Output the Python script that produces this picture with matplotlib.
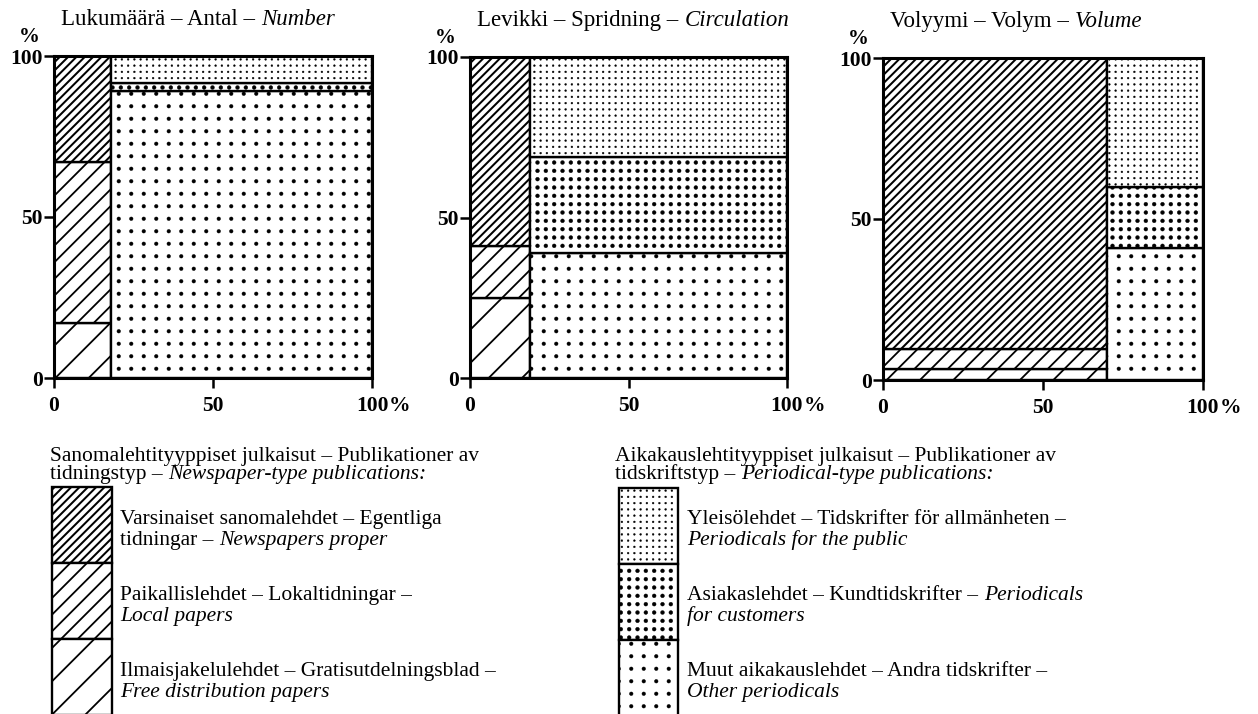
import matplotlib
matplotlib.use("Agg")
import numpy as np
import matplotlib.pyplot as plt
import matplotlib.hatch as mhatch
from matplotlib.path import Path
from matplotlib.patches import Rectangle

plt.rcParams['font.family'] = ['Liberation Serif', 'DejaVu Serif']
plt.rcParams['hatch.color'] = 'black'

W, H = 1258, 714

# Panel titles: Finnish/Swedish part and English (italic) part
titles_fi_sv = ["Lukumäärä – Antal –", "Levikki – Spridning –", "Volyymi – Volym –"]
titles_en = ["Number", "Circulation", "Volume"]

# Share of newspaper-type publications along the x axis (%)
news_share = [18, 19, 70]

# Newspaper-type column, bottom to top (% of the column)
free_papers = [17, 25, 3.5]
local_papers = [50, 16, 6]
newspapers_proper = [33, 59, 90.5]

# Periodical-type column, bottom to top (% of the column)
other_periodicals = [89, 39, 41]
customer_periodicals = [2.5, 30, 19]
public_periodicals = [8.5, 31, 40]

axis_ticks = [0, 50, 100]
tick_labels = ["0", "50", "100"]


class DotGrid:
    """Square grid of filled dots; the number of '.' picks pitch and dot size."""
    GRID = {1: (8, 0.018), 2: (12, 0.019), 3: (16, 0.009)}

    def __init__(self, hatch, density):
        n_dots = min(hatch.count('.'), 3)
        self.rows, self.radius = self.GRID.get(n_dots, (0, 0.0))
        circle = Path.unit_circle()
        self.circle_v = circle.vertices
        self.circle_c = circle.codes
        self.num_vertices = self.rows ** 2 * len(self.circle_v)

    def set_vertices_and_codes(self, vertices, codes):
        n = len(self.circle_v)
        centers = (np.arange(self.rows) + 0.5) / self.rows
        k = 0
        for cy in centers:
            for cx in centers:
                vertices[k:k + n] = self.circle_v * self.radius + (cx, cy)
                codes[k:k + n] = self.circle_c
                k += n


if hasattr(mhatch, "_hatch_types") and hasattr(mhatch, "SmallFilledCircles"):
    mhatch._hatch_types[:] = [DotGrid if c is mhatch.SmallFilledCircles else c
                              for c in mhatch._hatch_types]

# Fill pattern of each publication group: (hatch, hatch line width)
STYLE = {
    "proper": ("////", 1.45),
    "local": ("//", 1.3),
    "free": ("/", 1.3),
    "public": ("...", 0.3),
    "customers": ("..", 0.3),
    "other": (".", 0.3),
}

# Panel frames in pixels: left, right, top, bottom
PANEL_PX = [(54, 372, 56, 378), (470, 787, 57, 378), (883, 1203, 58, 380)]

PT = 0.72  # points per pixel at 100 dpi


def set_hatch(patch, key):
    hatch, hlw = STYLE[key]
    patch.set_hatch(hatch)
    if hasattr(patch, "set_hatch_linewidth"):
        patch.set_hatch_linewidth(hlw)


def stack(ax, x0, width, heights, keys):
    bottom = 0
    for h, key in zip(heights, keys):
        bars = ax.bar(x0, h, width=width, bottom=bottom, align="edge",
                      color="white", edgecolor="black", linewidth=1.7)
        set_hatch(bars.patches[0], key)
        bottom += h


def write_line(ax, xy, parts, size, coords="data"):
    prev = None
    for txt, italic in parts:
        style = "italic" if italic else "normal"
        if prev is None:
            prev = ax.annotate(txt, xy=xy, xycoords=coords, ha="left",
                               va="baseline", fontsize=size, fontstyle=style)
        else:
            prev = ax.annotate(txt, xy=(1, 0), xycoords=prev,
                               xytext=(size * 0.27, 0), textcoords="offset points",
                               ha="left", va="bottom", fontsize=size, fontstyle=style)
    return prev


fig = plt.figure(figsize=(W / 100, H / 100), dpi=100)

for i in range(3):
    l, r, t, b = PANEL_PX[i]
    ax = fig.add_axes([l / W, 1 - b / H, (r - l) / W, (b - t) / H])
    w = news_share[i]
    stack(ax, 0, w, [free_papers[i], local_papers[i], newspapers_proper[i]],
          ["free", "local", "proper"])
    stack(ax, w, 100 - w,
          [other_periodicals[i], customer_periodicals[i], public_periodicals[i]],
          ["other", "customers", "public"])
    ax.set_xlim(0, 100)
    ax.set_ylim(0, 100)
    ax.set_xticks(axis_ticks, tick_labels)
    ax.set_yticks(axis_ticks, tick_labels)
    ax.tick_params(axis="both", direction="out", length=7, width=1.8,
                   labelsize=15.5, colors="black")
    ax.tick_params(axis="x", pad=6)
    ax.tick_params(axis="y", pad=1)
    for lab in ax.get_xticklabels() + ax.get_yticklabels():
        lab.set_fontweight("bold")
    for sp in ax.spines.values():
        sp.set_linewidth(2.2)
        sp.set_zorder(3)
    # unit marks
    ax.annotate("%", xy=(0, 1), xycoords="axes fraction",
                xytext=(-25 * PT, 19 * PT), textcoords="offset points",
                ha="center", va="center", fontsize=15, fontweight="bold")
    ax.annotate("%", xy=(1, 0), xycoords="axes fraction",
                xytext=(17 * PT, -13), textcoords="offset points",
                ha="left", va="top", fontsize=15.5, fontweight="bold")
    # panel title
    t1 = ax.annotate(titles_fi_sv[i], xy=(0, 1), xycoords="axes fraction",
                     xytext=(7 * PT, 31 * PT), textcoords="offset points",
                     ha="left", va="baseline", fontsize=16.5)
    ax.annotate(titles_en[i], xy=(1, 0), xycoords=t1,
                xytext=(16.5 * 0.27, 0), textcoords="offset points",
                ha="left", va="bottom", fontsize=16.5, fontstyle="italic")

# Legend, drawn in pixel coordinates
lg = fig.add_axes([0, 0, 1, 1])
lg.set_xlim(0, W)
lg.set_ylim(H, 0)
lg.axis("off")
lg.patch.set_alpha(0)

LEG_SIZE = 15.5
groups = [
    dict(x_head=50, box_x=52, box_w=60, text_x=120, box_top=487,
         head=[[("Sanomalehtityyppiset julkaisut – Publikationer av", False)],
               [("tidningstyp –", False), ("Newspaper-type publications:", True)]],
         keys=["proper", "local", "free"],
         items=[[[("Varsinaiset sanomalehdet – Egentliga", False)],
                 [("tidningar –", False), ("Newspapers proper", True)]],
                [[("Paikallislehdet – Lokaltidningar –", False)],
                 [("Local papers", True)]],
                [[("Ilmaisjakelulehdet – Gratisutdelningsblad –", False)],
                 [("Free distribution papers", True)]]]),
    dict(x_head=615, box_x=619, box_w=59, text_x=687, box_top=488,
         head=[[("Aikakauslehtityyppiset julkaisut – Publikationer av", False)],
               [("tidskriftstyp –", False), ("Periodical-type publications:", True)]],
         keys=["public", "customers", "other"],
         items=[[[("Yleisölehdet – Tidskrifter för allmänheten –", False)],
                 [("Periodicals for the public", True)]],
                [[("Asiakaslehdet – Kundtidskrifter –", False), ("Periodicals", True)],
                 [("for customers", True)]],
                [[("Muut aikakauslehdet – Andra tidskrifter –", False)],
                 [("Other periodicals", True)]]]),
]
seg_h = 76
item_baselines = [(524, 545), (600, 621), (676, 697)]

for g in groups:
    write_line(lg, (g["x_head"], 461), g["head"][0], LEG_SIZE)
    write_line(lg, (g["x_head"], 479), g["head"][1], LEG_SIZE)
    for k, key in enumerate(g["keys"]):
        rect = Rectangle((g["box_x"], g["box_top"] + k * seg_h), g["box_w"], seg_h,
                         facecolor="white", edgecolor="black", linewidth=1.7)
        set_hatch(rect, key)
        lg.add_patch(rect)
        b1, b2 = item_baselines[k]
        write_line(lg, (g["text_x"], b1), g["items"][k][0], LEG_SIZE)
        write_line(lg, (g["text_x"], b2), g["items"][k][1], LEG_SIZE)

fig.savefig("out.png", dpi=100)
